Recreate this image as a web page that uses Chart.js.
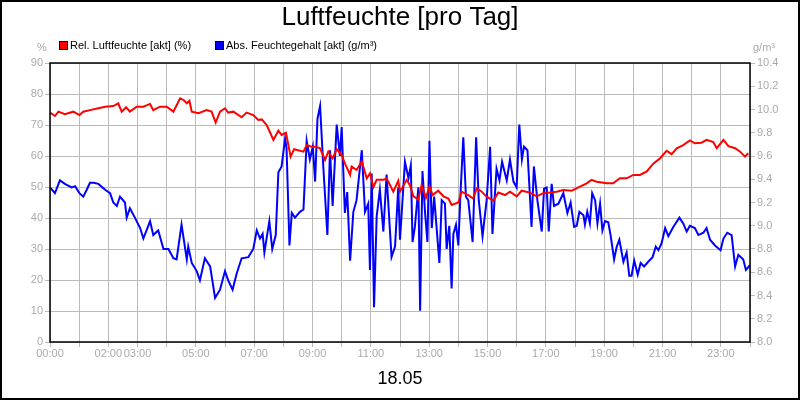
<!DOCTYPE html>
<html><head><meta charset="utf-8">
<script src="https://cdn.jsdelivr.net/npm/chart.js@4"></script>
<style>html,body{margin:0;padding:0;background:#fff}#w{width:800px;height:400px}</style>
</head><body><div id="w"><canvas id="c" width="800" height="400"></canvas></div>
<script>
const hourLabels = {0:"00:00",2:"02:00",3:"03:00",5:"05:00",7:"07:00",9:"09:00",11:"11:00",13:"13:00",15:"15:00",17:"17:00",19:"19:00",21:"21:00",23:"23:00"};
const relTimes = [0,0.17,0.29,0.51,0.80,1.01,1.14,1.37,1.66,1.89,2.17,2.34,2.46,2.61,2.74,2.97,3.20,3.43,3.54,3.77,4.00,4.23,4.46,4.59,4.69,4.78,4.86,5.09,5.37,5.54,5.68,5.83,6.00,6.11,6.29,6.57,6.74,6.97,7.14,7.26,7.43,7.66,7.83,7.94,8.09,8.25,8.37,8.69,8.80,8.97,9.12,9.26,9.43,9.54,9.69,9.83,10.00,10.11,10.29,10.34,10.51,10.69,10.86,10.97,11.09,11.20,11.43,11.54,11.77,11.94,12.00,12.23,12.34,12.46,12.63,12.74,12.89,13.01,13.12,13.31,13.49,13.66,13.77,14.00,14.11,14.34,14.51,14.63,14.80,14.97,15.20,15.37,15.60,15.77,16.00,16.17,16.46,16.69,16.91,17.14,17.37,17.60,17.89,18.17,18.40,18.57,18.74,19.09,19.31,19.54,19.77,20.00,20.23,20.46,20.69,20.91,21.14,21.31,21.49,21.71,21.94,22.11,22.34,22.51,22.74,22.86,23.09,23.26,23.49,23.66,23.83,23.94];
const relValues = [74,72.9,74.3,73.5,74.3,73.2,74.3,74.8,75.4,75.9,76.1,77,74.3,75.7,74.3,75.9,75.9,76.8,74.8,75.9,75.9,74.3,78.6,78,77,77.8,74.3,73.8,74.8,74.3,70.8,74.3,75.4,74,74.3,72.5,74,73.2,71.6,71.8,70,65.2,68.2,66.8,67.5,59.8,62.2,61.4,63.5,63,63,62.5,58.7,61.4,59.2,62.2,60.3,57.6,53.9,56.6,55.5,58.2,52.8,54.4,50,52.3,52.3,52.8,48.5,52,48.5,52.3,50.6,47,46,50.6,46.5,50.2,47.4,48.8,47,46.3,44.2,45,48.5,47.4,46.3,49.6,48.5,46.9,45.6,48.2,47.4,48.5,47,48.8,48.2,47,48,48.2,48.5,49,48.8,50.1,51.2,52.3,51.7,51.2,51.2,52.8,52.8,53.9,53.9,55,57.6,59.2,61.7,60.6,62.5,63.5,65,64.1,64.3,65.2,64.5,62.5,65.2,63.2,62.5,61.4,59.8,60.9];
const absTimes = [0,0.17,0.34,0.51,0.74,0.86,1.01,1.14,1.26,1.37,1.49,1.66,1.89,2.06,2.17,2.29,2.40,2.57,2.63,2.74,2.91,3.09,3.20,3.31,3.43,3.54,3.71,3.89,4.06,4.23,4.34,4.51,4.69,4.74,4.86,5.03,5.14,5.31,5.49,5.66,5.83,6.00,6.11,6.26,6.40,6.57,6.80,6.97,7.09,7.20,7.29,7.35,7.52,7.62,7.74,7.83,7.94,8.06,8.11,8.21,8.29,8.40,8.57,8.69,8.80,8.91,9.01,9.09,9.17,9.26,9.37,9.51,9.60,9.69,9.83,9.94,10.00,10.11,10.19,10.29,10.40,10.51,10.69,10.80,10.91,10.97,11.03,11.11,11.20,11.31,11.43,11.54,11.71,11.83,11.94,12.00,12.17,12.29,12.37,12.43,12.51,12.63,12.69,12.77,12.86,12.94,13.01,13.09,13.17,13.35,13.43,13.54,13.60,13.69,13.77,13.83,13.92,14.00,14.08,14.17,14.26,14.34,14.49,14.61,14.70,14.83,14.97,15.09,15.17,15.31,15.41,15.50,15.66,15.77,15.89,16.00,16.09,16.18,16.25,16.37,16.51,16.59,16.71,16.86,16.94,17.03,17.10,17.20,17.28,17.43,17.60,17.74,17.85,17.97,18.06,18.15,18.29,18.34,18.42,18.51,18.59,18.69,18.77,18.86,18.94,19.03,19.14,19.22,19.34,19.43,19.52,19.66,19.77,19.86,19.94,20.03,20.15,20.25,20.37,20.51,20.66,20.77,20.86,20.97,21.09,21.20,21.37,21.58,21.71,21.83,21.94,22.11,22.23,22.40,22.51,22.63,22.80,22.99,23.09,23.22,23.37,23.49,23.60,23.77,23.86,24.00];
const absValues = [9.33,9.28,9.39,9.36,9.33,9.34,9.28,9.25,9.31,9.37,9.37,9.36,9.31,9.28,9.20,9.17,9.25,9.20,9.07,9.15,9.07,8.98,8.89,8.96,9.04,8.92,8.96,8.80,8.80,8.72,8.71,9.01,8.71,8.82,8.68,8.61,8.53,8.72,8.65,8.38,8.45,8.61,8.53,8.45,8.59,8.72,8.73,8.80,8.96,8.89,8.93,8.77,9.04,8.80,8.92,9.46,9.51,9.75,9.67,8.83,9.11,9.07,9.12,9.14,9.73,9.57,9.68,9.38,9.92,10.03,9.51,8.92,9.65,9.17,9.87,9.60,9.85,9.11,9.29,8.70,9.12,9.22,9.65,9.12,9.19,8.62,9.45,8.30,9.08,9.31,8.95,9.44,8.73,8.82,9.33,8.88,9.55,9.41,9.52,8.86,8.99,9.33,8.27,9.47,9.11,8.86,9.73,8.98,9.25,8.68,9.22,9.19,8.80,9.00,8.46,8.93,9.01,8.83,9.31,9.76,9.25,9.22,8.86,9.76,9.22,8.91,9.22,9.68,8.93,9.49,9.39,9.55,9.39,9.57,9.38,9.33,9.87,9.57,9.68,9.65,8.99,9.51,9.22,8.95,9.32,9.33,8.95,9.36,9.17,9.19,9.28,9.11,9.20,8.99,9.00,9.12,9.09,9.01,9.12,9.02,9.28,9.22,9.02,9.19,8.96,9.04,9.03,8.92,8.71,8.82,8.88,8.69,8.77,8.57,8.57,8.70,8.58,8.68,8.65,8.69,8.73,8.82,8.79,8.85,8.98,8.91,8.99,9.07,9.02,8.95,9.00,8.98,8.92,8.94,8.98,8.88,8.83,8.79,8.89,8.94,8.92,8.65,8.75,8.71,8.62,8.66];

const FONT = "'Liberation Sans', Arial, sans-serif";
const grey = '#aaaaaa';
const deco = {
  id:'deco',
  beforeDraw(ch){const c=ch.ctx;c.save();c.fillStyle='#fff';c.fillRect(0,0,800,400);c.restore();},
  afterDraw(ch){
    const c=ch.ctx, a=ch.chartArea;
    c.save();
    c.strokeStyle='#000';c.lineWidth=1.5;c.strokeRect(a.left,a.top,a.right-a.left,a.bottom-a.top);
    c.lineWidth=2;c.strokeRect(1,1,798,398);
    c.fillStyle='#000';c.textAlign='center';c.textBaseline='middle';
    c.font='26px '+FONT;c.fillText('Luftfeuchte [pro Tag]',400,18);
    c.font='18px '+FONT;c.fillText('18.05',400,379);
    c.font='11px '+FONT;c.fillStyle=grey;
    c.fillText('%',42,48);c.fillText('g/m³',764,48);
    c.textAlign='left';c.fillStyle='#000';
    const items=[['Rel. Luftfeuchte [akt] (%)','#ff0000',59],['Abs. Feuchtegehalt [akt] (g/m³)','#0000ff',215]];
    for(const [t,col,x] of items){
      c.fillStyle=col;c.fillRect(x,41,8,8);c.strokeStyle='#000';c.lineWidth=1;c.strokeRect(x+0.5,41.5,8,8);
      c.fillStyle='#000';c.fillText(t,x+11,45.5);
    }
    c.restore();
  }
};
new Chart(document.getElementById('c'),{
  type:'line',
  data:{datasets:[
    {label:'Rel. Luftfeuchte [akt] (%)',data:relTimes.map((t,i)=>({x:t,y:relValues[i]})),borderColor:'#ff0000',borderWidth:2,pointRadius:0,yAxisID:'y',tension:0},
    {label:'Abs. Feuchtegehalt [akt] (g/m³)',data:absTimes.map((t,i)=>({x:t,y:absValues[i]})),borderColor:'#0000ff',borderWidth:2,pointRadius:0,yAxisID:'y2',tension:0}
  ]},
  options:{
    responsive:false,animation:false,
    layout:{padding:{top:63,bottom:0,left:0,right:0}},
    plugins:{legend:{display:false},title:{display:false},tooltip:{enabled:false}},
    scales:{
      x:{type:'linear',min:0,max:24,
        afterFit(s){s.height=58;},
        afterBuildTicks(s){s.ticks=[];for(let h=0;h<=24;h++)s.ticks.push({value:h});},
        grid:{color:'#bbbbbb',tickLength:5,lineWidth:1},
        border:{display:false},
        ticks:{autoSkip:false,maxRotation:0,color:grey,font:{family:FONT,size:11},padding:0,callback:v=>hourLabels[v]||''}},
      y:{position:'left',min:0,max:90,afterFit(s){s.width=50;},
        grid:{color:'#bbbbbb',tickLength:5},border:{display:false},
        ticks:{stepSize:10,color:grey,font:{family:FONT,size:11},padding:2}},
      y2:{position:'right',min:8,max:10.4,afterFit(s){s.width=50;},
        grid:{drawOnChartArea:false,color:'#bbbbbb',tickLength:5},border:{display:false},
        ticks:{stepSize:0.2,color:grey,font:{family:FONT,size:11},padding:2,callback:v=>v.toFixed(1)}}
    }
  },
  plugins:[deco]
});
</script></body></html>
